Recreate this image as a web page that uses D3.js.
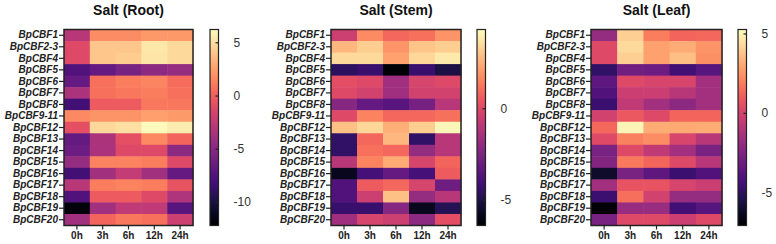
<!DOCTYPE html>
<html>
<head>
<meta charset="utf-8">
<script src="https://cdn.jsdelivr.net/npm/d3@7"></script>
<style>
  body { margin: 0; background: #fff; }
  svg { display: block; }
</style>
</head>
<body>
<svg id="svg" width="776" height="244"></svg>
<script>
const genes = ['BpCBF1', 'BpCBF2-3', 'BpCBF4', 'BpCBF5', 'BpCBF6', 'BpCBF7', 'BpCBF8', 'BpCBF9-11',
  'BpCBF12', 'BpCBF13', 'BpCBF14', 'BpCBF15', 'BpCBF16', 'BpCBF17', 'BpCBF18', 'BpCBF19', 'BpCBF20']
const times = ['0h', '3h', '6h', '12h', '24h']

// rows follow genes, columns follow times
const rootValues = [
  [-3.0, 1.8, 1.8, 2.2, 2.2],
  [-1.2, 4.0, 4.0, 5.3, 4.8],
  [-1.2, 4.0, 4.2, 5.2, 4.8],
  [-7.6, -6.7, -5.8, -4.8, -4.5],
  [-6.7, 0.7, 1.2, 1.5, 0.5],
  [-3.5, 0.7, 1.0, 1.2, 0.7],
  [-8.2, -0.2, -0.2, 1.0, 1.0],
  [1.6, 2.1, 2.1, 2.5, 2.3],
  [-0.8, 4.7, 5.0, 6.0, 5.5],
  [-6.7, -3.5, -0.8, 1.6, 0.3],
  [-6.3, -3.5, -1.2, -1.2, -4.8],
  [-4.5, 1.4, 1.4, 1.2, -1.2],
  [-8.2, -3.9, -2.4, -3.9, -6.7],
  [-3.0, 1.2, 1.4, 1.2, -0.6],
  [-7.6, -0.2, -0.2, -1.2, -3.3],
  [-11.8, -3.9, -2.6, -2.6, -7.2],
  [-3.9, 0.3, 1.0, 0.7, -2.0]
]
const stemValues = [
  [-0.5, 1.7, 0.9, 1.1, 1.9],
  [2.7, 3.2, 1.9, 3.0, 3.2],
  [3.5, 3.5, 2.2, 3.4, 3.8],
  [-4.6, -4.3, -6.4, -4.3, -5.1],
  [0.2, 0.0, -1.6, -0.2, 0.0],
  [0.0, -0.3, -1.6, -0.3, -0.3],
  [-2.3, -3.2, -3.5, -2.7, -1.0],
  [0.0, 1.5, 0.9, 0.9, 1.1],
  [2.9, 3.4, 2.5, 3.2, 4.1],
  [-4.5, 0.9, 2.7, -4.5, -1.0],
  [-4.5, 1.1, 0.9, -1.9, -1.0],
  [-1.0, 1.5, 2.4, -0.2, 0.8],
  [-5.8, -4.0, -3.2, -4.0, 0.6],
  [-3.7, 0.6, 0.9, -0.2, -2.9],
  [-3.7, -0.5, 2.9, -1.9, -1.0],
  [-4.3, -4.3, -2.3, -5.8, -4.8],
  [-1.6, -0.2, -0.5, -2.1, 0.2]
]
const leafValues = [
  [-1.9, 4.0, 1.9, 1.2, 1.3],
  [0.3, 4.3, 2.8, 3.1, 2.5],
  [0.3, 4.0, 2.8, 3.6, 2.4],
  [-4.9, -3.0, -3.1, -4.4, -3.8],
  [-3.6, 0.3, 0.1, 0.1, -1.5],
  [-4.0, -0.3, -0.3, -0.9, -1.5],
  [-4.6, -0.6, -1.5, -2.2, -1.5],
  [-0.1, 0.9, 0.3, 1.2, 1.2],
  [1.3, 5.0, 3.1, 3.0, 3.1],
  [0.3, 2.0, 2.3, 0.1, -0.9],
  [-2.8, 0.3, -0.6, -1.5, -2.8],
  [-2.5, 1.8, 1.2, 0.3, -0.9],
  [-6.1, -2.8, -3.6, -4.6, -4.0],
  [-1.5, 0.7, 0.7, 0.1, -0.3],
  [-4.6, 1.5, -0.1, -1.9, -1.9],
  [-7.0, -1.8, -1.8, -4.4, -3.8],
  [-2.8, 0.3, 0.3, -0.3, 0.3]
]

const rootDomain = [-12.2, 6.2]
const stemDomain = [-6.4, 4.3]
const leafDomain = [-7.1, 5.25]
const rootTicks = [5, 0, -5, -10]
const stemTicks = [0, -5]
const leafTicks = [5, 0, -5]

const panels = [
  { title: 'Salt (Root)', values: rootValues, domain: rootDomain, ticks: rootTicks, x0: 64, x1: 193, cb: 210 },
  { title: 'Salt (Stem)', values: stemValues, domain: stemDomain, ticks: stemTicks, x0: 331, x1: 461, cb: 477 },
  { title: 'Salt (Leaf)', values: leafValues, domain: leafDomain, ticks: leafTicks, x0: 591, x1: 722, cb: 738 }
]

const plotTop = 29.5
const plotBottom = 225.5
const cbWidth = 8.5
const font = 'Liberation Sans, Arial, sans-serif'

const svg = d3.select('#svg')

panels.forEach(p => {
  const g = svg.append('g')

  const x = d3.scaleBand().domain(times).range([p.x0, p.x1])
  const y = d3.scaleBand().domain(genes).range([plotTop, plotBottom])
  const colour = d3.scaleSequential(d3.interpolateMagma).domain(p.domain)

  const cells = []
  p.values.forEach((row, i) => row.forEach((v, j) => cells.push({ gene: genes[i], time: times[j], v })))

  g.selectAll('rect.cell')
    .data(cells)
    .join('rect')
    .attr('class', 'cell')
    .attr('x', d => x(d.time))
    .attr('y', d => y(d.gene))
    .attr('width', x.bandwidth() + 0.5)
    .attr('height', y.bandwidth() + 0.5)
    .attr('fill', d => colour(d.v))

  g.append('rect')
    .attr('x', p.x0)
    .attr('y', plotTop)
    .attr('width', p.x1 - p.x0)
    .attr('height', plotBottom - plotTop)
    .attr('fill', 'none')
    .attr('stroke', '#222')
    .attr('stroke-width', 1.5)

  const yAxis = g.append('g')
    .attr('transform', `translate(${p.x0},0)`)
    .call(d3.axisLeft(y).tickSize(5).tickPadding(1))
  yAxis.select('.domain').remove()
  yAxis.selectAll('line').attr('stroke', '#222').attr('stroke-width', 1.2)
  yAxis.selectAll('text')
    .attr('fill', '#222')
    .style('font-family', font)
    .style('font-weight', 'bold')
    .style('font-style', 'italic')
    .style('font-size', '10px')

  const xAxis = g.append('g')
    .attr('transform', `translate(0,${plotBottom})`)
    .call(d3.axisBottom(x).tickSize(4).tickPadding(2))
  xAxis.select('.domain').remove()
  xAxis.selectAll('line').attr('stroke', '#222').attr('stroke-width', 1.2)
  xAxis.selectAll('text')
    .attr('fill', '#222')
    .style('font-family', font)
    .style('font-weight', 'bold')
    .style('font-size', '10px')

  g.append('text')
    .attr('x', (p.x0 + p.x1) / 2)
    .attr('y', 15)
    .attr('text-anchor', 'middle')
    .style('font-family', font)
    .style('font-weight', 'bold')
    .style('font-size', '14px')
    .attr('fill', '#111')
    .text(p.title)

  // colour bar
  const gradId = 'grad' + p.title.replace(/\W/g, '')
  const grad = svg.append('defs').append('linearGradient')
    .attr('id', gradId)
    .attr('x1', 0).attr('y1', 1).attr('x2', 0).attr('y2', 0)
  d3.range(0, 1.001, 0.05).forEach(t => {
    grad.append('stop').attr('offset', t).attr('stop-color', d3.interpolateMagma(t))
  })

  const cy = d3.scaleLinear().domain(p.domain).range([plotBottom, plotTop])

  g.append('rect')
    .attr('x', p.cb)
    .attr('y', plotTop)
    .attr('width', cbWidth)
    .attr('height', plotBottom - plotTop)
    .attr('fill', `url(#${gradId})`)
    .attr('stroke', '#222')
    .attr('stroke-width', 1.2)

  const cAxis = g.append('g')
    .attr('transform', `translate(${p.cb + cbWidth},0)`)
    .call(d3.axisRight(cy).tickValues(p.ticks).tickSize(3).tickPadding(12).tickFormat(d3.format('d')))
  cAxis.select('.domain').remove()
  cAxis.selectAll('line')
    .attr('x1', -3).attr('x2', 0)
    .attr('stroke', '#222').attr('stroke-width', 1.2)
  cAxis.selectAll('text')
    .attr('fill', '#333')
    .style('font-family', font)
    .style('font-size', '12px')
    .text(d => d < 0 ? '-' + Math.abs(d) : d)
})
</script>
</body>
</html>
